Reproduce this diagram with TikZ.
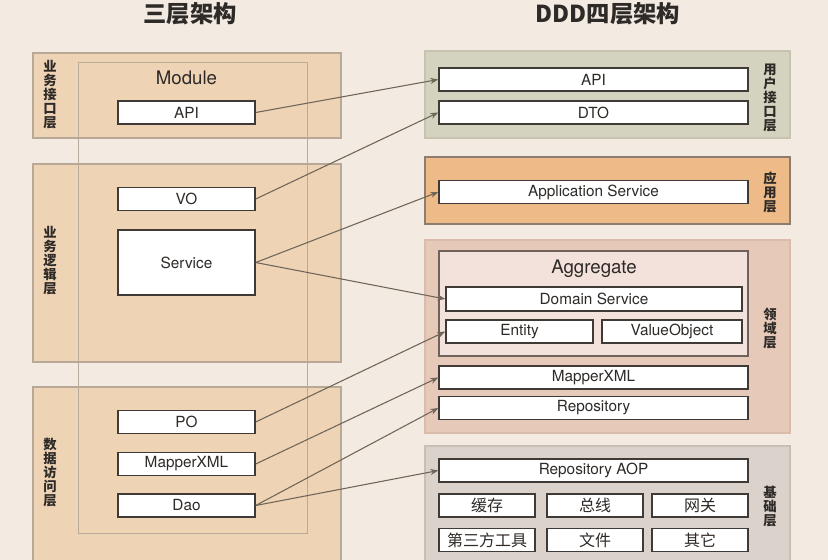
\documentclass[tikz,border=0pt]{standalone}
\usepackage{fontspec}
\setmainfont{TeX Gyre Heros}
\newfontfamily\cjk{Noto Sans CJK SC}
\usetikzlibrary{arrows.meta, positioning}

\definecolor{bgcol}{HTML}{F3EAE2}
\definecolor{lpanelfill}{HTML}{EED4B5}
\definecolor{lpaneldraw}{HTML}{B8A898}
\definecolor{modline}{HTML}{B9AB9C}
\definecolor{userfill}{HTML}{D4D3BF}
\definecolor{userdraw}{HTML}{C6C4B1}
\definecolor{appfill}{HTML}{EDBA88}
\definecolor{appdraw}{HTML}{8C7D6E}
\definecolor{domfill}{HTML}{E6C9B8}
\definecolor{domdraw}{HTML}{D9BCAA}
\definecolor{aggfill}{HTML}{F3E1DB}
\definecolor{aggdraw}{HTML}{6E625A}
\definecolor{infrafill}{HTML}{DAD2CB}
\definecolor{infradraw}{HTML}{C8C0B8}
\definecolor{boxline}{HTML}{3F3A36}
\definecolor{linkcol}{HTML}{6E6558}
\definecolor{txt}{HTML}{2E2A27}

\begin{document}
\begin{tikzpicture}[x=0.75pt, y=-0.75pt,
    title/.style={font=\cjk\bfseries\fontsize{17.5}{20}\selectfont, text=txt},
    box/.style={draw=boxline, fill=white, line width=1pt, inner sep=0pt, minimum height=17.25pt, font=\fontsize{11.5}{13}\selectfont, text=txt},
    lbox/.style={box, minimum width=102.75pt},
    wbox/.style={box, minimum width=231.75pt},
    sbox/.style={box, minimum width=72pt, font=\cjk\fontsize{12}{13}\selectfont},
    vlabel/.style={font=\cjk\bfseries\fontsize{10}{10.5}\selectfont, align=center, inner sep=0pt, text=txt},
    lpanel/.style={fill=lpanelfill, draw=lpaneldraw, line width=0.9pt},
    link/.style={draw=linkcol, line width=0.8pt, -{Stealth[length=6pt, width=4.5pt]}}]
    \useasboundingbox (0,0) rectangle (828,560);
    \clip (0,0) rectangle (828,560);
    \fill[bgcol] (0,0) rectangle (828,560);

    % titles
    \node[title] (title3) at (190,14) {三层架构};
    \node[title] (title4) at (608,14) {DDD四层架构};

    % three layers
    \draw[lpanel] (33,53) rectangle (341,138);
    \draw[lpanel] (33,164) rectangle (341,362);
    \draw[lpanel] (33,387) rectangle (341,580);
    \draw[modline, line width=0.6pt] (78,62) rectangle (307,533);
    \node[font=\fontsize{14}{16}\selectfont, text=txt] (module) at (186.5,78) {Module};

    \node[vlabel] (ifacelbl) at (50,95) {业\\务\\接\\口\\层};
    \node[vlabel] (logiclbl) at (50,261) {业\\务\\逻\\辑\\层};
    \node[vlabel] (datalbl) at (50,473) {数\\据\\访\\问\\层};

    \node[lbox] (lapi) at (186.5,112.5) {API};
    \node[lbox] (vo) at (186.5,199) {VO};
    \node[lbox, minimum height=48.75pt] (service) at (186.5,262.5) {Service};
    \node[lbox] (po) at (186.5,422) {PO};
    \node[lbox] (lmapper) at (186.5,464) {MapperXML};
    \node[lbox] (dao) at (186.5,505.5) {Dao};

    % DDD four layers
    \draw[fill=userfill, draw=userdraw, line width=0.9pt] (425,51) rectangle (790,138);
    \draw[fill=appfill, draw=appdraw, line width=0.9pt] (425,157) rectangle (790,224);
    \draw[fill=domfill, draw=domdraw, line width=0.9pt] (425,240) rectangle (790,433);
    \draw[fill=infrafill, draw=infradraw, line width=0.9pt] (425,446) rectangle (790,580);

    \node[vlabel] (userlbl) at (770,98) {用\\户\\接\\口\\层};
    \node[vlabel] (applbl) at (770,192) {应\\用\\层};
    \node[vlabel] (domlbl) at (770,328) {领\\域\\层};
    \node[vlabel] (infralbl) at (770,507) {基\\础\\层};

    \node[wbox] (rapi) at (593.5,79.5) {API};
    \node[wbox] (dto) at (593.5,112.5) {DTO};
    \node[wbox] (appsvc) at (593.5,192) {Application Service};

    \node[wbox, fill=aggfill, draw=aggdraw, minimum height=78.75pt] (aggregate) at (593.5,303.5) {};
    \node[font=\fontsize{14}{16}\selectfont, text=txt] (agglbl) at (594,269) {Aggregate};
    \node[box, minimum width=222pt, minimum height=18pt] (domsvc) at (594,299) {Domain Service};
    \node[box, minimum width=110.25pt] (entity) at (519.5,331.5) {Entity};
    \node[box, minimum width=105pt] (valobj) at (672,331.5) {ValueObject};
    \node[wbox] (rmapper) at (593.5,377.5) {MapperXML};
    \node[wbox] (repo) at (593.5,408) {Repository};

    \node[wbox] (repoaop) at (593.5,470.5) {Repository AOP};
    \node[sbox] (cache) at (487,505.5) {缓存};
    \node[sbox, right=8pt of cache] (bus) {总线};
    \node[sbox] (gateway) at (700,505.5) {网关};
    \node[sbox] (thirdparty) at (487,540) {第三方工具};
    \node[sbox, right=8pt of thirdparty] (files) {文件};
    \node[sbox] (others) at (700,540) {其它};

    % mappings
    \draw[link] (lapi.east) -- (rapi.west);
    \draw[link] (vo.east) -- (dto.west);
    \draw[link] (service.east) -- (appsvc.west);
    \draw[link] (service.east) -- (domsvc.west);
    \draw[link] (po.east) -- (entity.west);
    \draw[link] (lmapper.east) -- (rmapper.west);
    \draw[link] (dao.east) -- (repo.west);
    \draw[link] (dao.east) -- (repoaop.west);
\end{tikzpicture}
\end{document}
